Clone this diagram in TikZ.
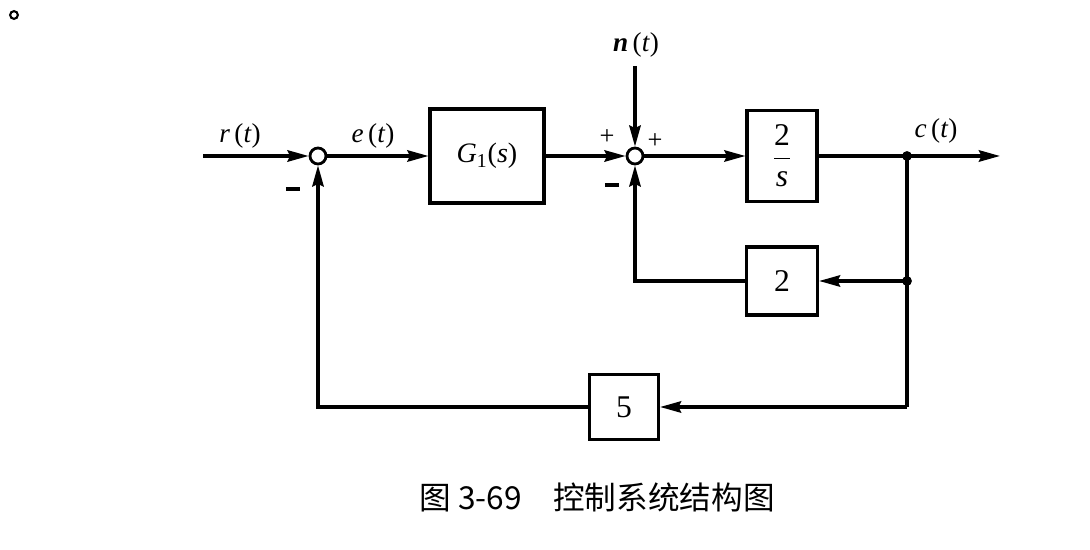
\documentclass[tikz,border=0pt]{standalone}
\usepackage{fontspec}
\setmainfont{Liberation Serif}
\newfontfamily\cjk{Noto Sans CJK SC}
\usetikzlibrary{arrows.meta}

\begin{document}
\begin{tikzpicture}[x=0.02cm, y=-0.02cm, line width=1.8pt,
        >={Stealth[length=12pt,width=6.5pt,inset=1.5pt]},
        blk/.style={draw, line width=1.8pt, inner sep=0pt, font=\fontsize{16}{19}\selectfont},
        sumpt/.style={draw, circle, line width=1.6pt, fill=white, minimum size=0.32cm, inner sep=0pt},
        lbl/.style={font=\fontsize{15.5}{18}\selectfont},
        sgn/.style={font=\fontsize{15}{17}\selectfont}]

        \useasboundingbox (0,0) rectangle (1090,550);

        % Blocks
        \node[blk, minimum width=2.28cm, minimum height=1.88cm] (g1) at (487,156) {\textit{G}\textsubscript{1}(\textit{s})};
        \node[blk, minimum width=1.4cm, minimum height=1.82cm] (tf) at (782,156) {\fontsize{18}{20}\selectfont$\displaystyle\frac{\mathrm{2}}{\mathit{s}}$};
        \node[blk, minimum width=1.42cm, minimum height=1.36cm] (fb2) at (782,281) {\fontsize{18}{20}\selectfont 2};
        \node[blk, minimum width=1.38cm, minimum height=1.3cm] (fb5) at (624,407) {\fontsize{18}{20}\selectfont 5};

        % Summing points
        \node[sumpt] (s1) at (318,156) {};
        \node[sumpt] (s2) at (635,156) {};

        % Free ends and branch points
        \coordinate (rin) at (203,156);
        \coordinate (nin) at (635,66);
        \coordinate (cout) at (1000,156);
        \coordinate (j1) at (907,156);
        \coordinate (j2) at (907,281);
        \coordinate (j3) at (907,407);

        % Forward path
        \draw[->] (rin) -- (s1);
        \draw[->] (s1) -- (g1);
        \draw[->] (g1) -- (s2);
        \draw[->] (nin) -- (s2);
        \draw[->] (s2) -- (tf);
        \draw[->] (tf) -- (cout);

        % Feedback paths
        \draw (j1) -- (j3);
        \draw[->] (j2) -- (fb2);
        \draw[->] (fb2) -| (s2);
        \draw[->] (j3) -- (fb5);
        \draw[->] (fb5) -| (s1);

        \fill (j1) circle[radius=2.8pt];
        \fill (j2) circle[radius=2.8pt];

        % Signal labels
        \node[lbl] (rlab) at (240,136) {\textit{r}\,(\textit{t})};
        \node[lbl] (elab) at (373,136) {\textit{e}\,(\textit{t})};
        \node[lbl] (nlab) at (636,45) {\textit{\textbf{n}}\,(\textit{t})};
        \node[lbl] (clab) at (936,131) {\textit{c}\,(\textit{t})};

        % Signs
        \node[sgn] (p1) at (607,137) {+};
        \node[sgn] (p2) at (655,141) {+};
        \node[inner sep=0pt] (m2) at (612,185) {\rule{8pt}{2pt}};
        \node[inner sep=0pt] (m1) at (293,189) {\rule{8pt}{2pt}};

        % Mark and caption
        \draw[line width=1.2pt] (14,15) circle[radius=2.2pt];
        \node[font=\cjk\fontsize{18}{21}\selectfont] (cap) at (597,497) {图 3-69\quad 控制系统结构图};

\end{tikzpicture}
\end{document}
